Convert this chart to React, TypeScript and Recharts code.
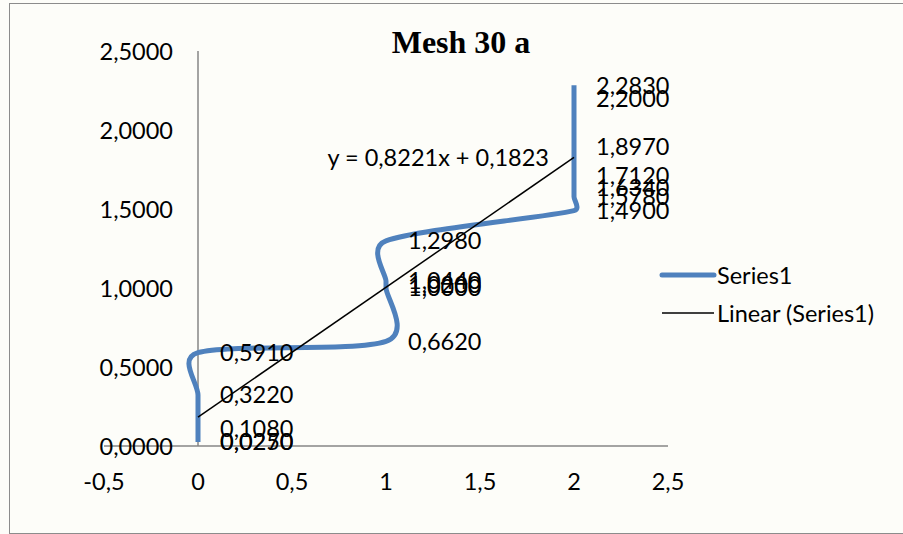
import React from "react";
import {
  ComposedChart,
  Line,
  XAxis,
  YAxis,
  ReferenceLine,
  LabelList,
} from "recharts";

// measured series: x position and value
const xValues = [0, 0, 0, 0, 0, 1, 1, 1, 1, 1, 2, 2, 2, 2, 2, 2, 2];
const yValues = [
  0.025, 0.027, 0.108, 0.322, 0.591, 0.662, 1.0, 1.02, 1.044, 1.298, 1.49,
  1.578, 1.634, 1.712, 1.897, 2.2, 2.283,
];
const trendSlope = 0.8221;
const trendIntercept = 0.1823;
const trendRange = [0, 2];
const xTicks = [-0.5, 0, 0.5, 1, 1.5, 2, 2.5];
const yTicks = [0, 0.5, 1, 1.5, 2, 2.5];
const seriesNames = ["Series1", "Linear (Series1)"];

const seriesData = xValues.map((x, i) => ({ x, y: yValues[i] }));
const trendData = trendRange.map((x) => ({
  x,
  t: trendSlope * x + trendIntercept,
}));

const FONT = "Lato, 'Open Sans', sans-serif";
const FS = 23.5;
const BLUE = "#4F81BD";
const AXIS = "#868686";

const comma = (v: number, d: number) => v.toFixed(d).replace(".", ",");

// Excel-like smoothing: catmull-rom through the points in order,
// control arms kept shorter than half of the segment they sit on
function smoothCurve(context: any) {
  let pts: number[][] = [];
  const arm = (dx: number, dy: number, seg: number) => {
    const len = Math.hypot(dx, dy);
    const max = seg * 0.5;
    if (len <= max || len === 0) return [dx, dy];
    return [(dx * max) / len, (dy * max) / len];
  };
  return {
    areaStart() {},
    areaEnd() {},
    lineStart() {
      pts = [];
    },
    point(x: number, y: number) {
      pts.push([+x, +y]);
    },
    lineEnd() {
      if (!pts.length) return;
      context.moveTo(pts[0][0], pts[0][1]);
      for (let i = 0; i < pts.length - 1; i++) {
        const p0 = pts[Math.max(i - 1, 0)];
        const p1 = pts[i];
        const p2 = pts[i + 1];
        const p3 = pts[Math.min(i + 2, pts.length - 1)];
        const seg = Math.hypot(p2[0] - p1[0], p2[1] - p1[1]);
        const a = arm((p2[0] - p0[0]) / 6, (p2[1] - p0[1]) / 6, seg);
        const b = arm((p3[0] - p1[0]) / 6, (p3[1] - p1[1]) / 6, seg);
        context.bezierCurveTo(
          p1[0] + a[0],
          p1[1] + a[1],
          p2[0] - b[0],
          p2[1] - b[1],
          p2[0],
          p2[1]
        );
      }
    },
  };
}

const XTick = (props: any) => {
  const { x, payload } = props;
  return (
    <text
      x={x}
      y={481}
      textAnchor="middle"
      dominantBaseline="central"
      fontFamily={FONT}
      fontSize={FS}
      fill="#000"
    >
      {comma(payload.value, payload.value % 1 === 0 ? 0 : 1)}
    </text>
  );
};

const YTick = (props: any) => {
  const { y, payload } = props;
  return (
    <text
      x={173}
      y={y}
      textAnchor="end"
      dominantBaseline="central"
      fontFamily={FONT}
      fontSize={FS}
      fill="#000"
    >
      {comma(payload.value, 4)}
    </text>
  );
};

const EquationLabel = (props: any) => {
  const { x, y, index } = props;
  if (index !== trendData.length - 1) return null;
  return (
    <text
      x={x - 25}
      y={y}
      textAnchor="end"
      dominantBaseline="central"
      fontFamily={FONT}
      fontSize={FS}
      fill="#000"
    >
      {`y = ${comma(trendSlope, 4)}x + ${comma(trendIntercept, 4)}`}
    </text>
  );
};

const LegendBox = () => (
  <div
    style={{
      position: "absolute",
      left: 659,
      top: 256,
      fontFamily: FONT,
      fontSize: FS,
      color: "#000",
    }}
  >
    <div style={{ display: "flex", alignItems: "center", height: 38 }}>
      <svg width={58} height={10}>
        <line x1={3} y1={5} x2={55} y2={5} stroke={BLUE} strokeWidth={5} strokeLinecap="round" />
      </svg>
      <span>{seriesNames[0]}</span>
    </div>
    <div style={{ display: "flex", alignItems: "center", height: 38 }}>
      <svg width={58} height={10}>
        <line x1={3} y1={5} x2={55} y2={5} stroke="#000" strokeWidth={1.5} />
      </svg>
      <span>{seriesNames[1]}</span>
    </div>
  </div>
);

export default function App() {
  return (
    <div
      style={{
        position: "absolute",
        left: 0,
        top: 0,
        width: 903,
        height: 534,
        background: "#fdfdf9",
      }}
    >
      <div
        style={{
          position: "absolute",
          left: 9,
          top: 3,
          width: 894,
          height: 529,
          border: "1.5px solid #8c8c8c",
          borderRight: "none",
        }}
      />
      <div
        style={{
          position: "absolute",
          left: 0,
          top: 24,
          width: 922,
          textAlign: "center",
          fontFamily: "'Liberation Serif', 'Times New Roman', serif",
          fontWeight: "bold",
          fontSize: 32,
        }}
      >
        Mesh 30 a
      </div>
      <ComposedChart
        width={903}
        height={534}
        margin={{ top: 51, right: 235, bottom: 87, left: 103 }}
        style={{ position: "absolute", left: 0, top: 0 }}
      >
        <XAxis
          dataKey="x"
          type="number"
          domain={[-0.5, 2.5]}
          ticks={xTicks}
          interval={0}
          axisLine={false}
          tickLine={false}
          height={1}
          tick={<XTick />}
          allowDataOverflow
        />
        <YAxis
          type="number"
          domain={[0, 2.5]}
          ticks={yTicks}
          interval={0}
          axisLine={false}
          tickLine={false}
          width={1}
          tick={<YTick />}
          allowDataOverflow
        />
        <ReferenceLine x={0} stroke={AXIS} strokeWidth={1.5} />
        <ReferenceLine y={0} stroke={AXIS} strokeWidth={1.5} />
        <Line
          data={seriesData}
          dataKey="y"
          type={smoothCurve as any}
          stroke={BLUE}
          strokeWidth={5}
          dot={false}
          isAnimationActive={false}
          name={seriesNames[0]}
        >
          <LabelList
            dataKey="y"
            position="right"
            offset={22}
            formatter={(v: any) => comma(Number(v), 4)}
            style={{ fontFamily: FONT, fontSize: FS, fill: "#000" }}
          />
        </Line>
        <Line
          data={trendData}
          dataKey="t"
          type="linear"
          stroke="#000"
          strokeWidth={1.5}
          dot={false}
          isAnimationActive={false}
          name={seriesNames[1]}
        >
          <LabelList dataKey="t" content={<EquationLabel />} />
        </Line>
      </ComposedChart>
      <LegendBox />
    </div>
  );
}
